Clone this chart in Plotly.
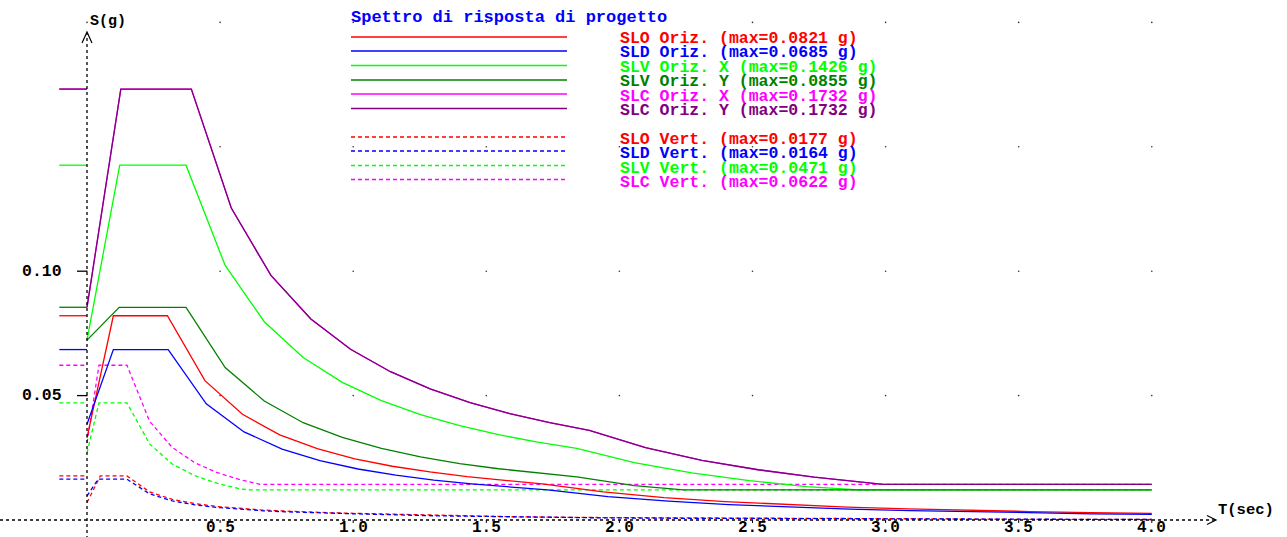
import plotly.graph_objects as go

# ---------------- data ----------------
STUB_T = [-0.104, 0.0]   # short level marks left of the S axis

SLO_H_T = [0, 0.099, 0.302, 0.443, 0.584, 0.724, 0.865, 1.006, 1.147, 1.288, 1.428, 1.569, 1.71,
           1.939, 2.168, 2.397, 2.626, 2.855, 3.084, 3.313, 3.542, 3.771, 4.0]
SLO_H_S = [0.033, 0.0821, 0.0821, 0.0560, 0.0425, 0.0342, 0.0287, 0.0246, 0.0216, 0.0193, 0.0174, 0.0158, 0.0145,
           0.0113, 0.0090, 0.0074, 0.0062, 0.0052, 0.0045, 0.0039, 0.0034, 0.0030, 0.0027]

SLD_H_T = [0, 0.099, 0.305, 0.448, 0.590, 0.733, 0.875, 1.018, 1.160, 1.303, 1.445, 1.588, 1.73,
           1.957, 2.184, 2.411, 2.638, 2.865, 3.092, 3.319, 3.546, 3.773, 4.0]
SLD_H_S = [0.0385, 0.0685, 0.0685, 0.0467, 0.0354, 0.0285, 0.0239, 0.0205, 0.0180, 0.0160, 0.0145, 0.0132, 0.0121,
           0.0094, 0.0076, 0.0062, 0.0052, 0.0044, 0.0038, 0.0033, 0.0029, 0.0025, 0.0023]

SLV_HX_T = [0, 0.123, 0.372, 0.519, 0.666, 0.812, 0.959, 1.106, 1.253, 1.400, 1.546, 1.693, 1.84,
            2.056, 2.272, 2.488, 2.704, 2.90, 4.0]
SLV_HX_S = [0.0723, 0.1426, 0.1426, 0.1023, 0.0797, 0.0653, 0.0553, 0.0480, 0.0424, 0.0379, 0.0343, 0.0313, 0.0288,
            0.0231, 0.0189, 0.0158, 0.0134, 0.0121, 0.0121]

SLV_HY_T = [0, 0.121, 0.372, 0.519, 0.666, 0.812, 0.959, 1.106, 1.253, 1.400, 1.546, 1.693, 1.84,
            2.056, 2.24, 4.0]
SLV_HY_S = [0.0723, 0.0855, 0.0855, 0.0613, 0.0478, 0.0391, 0.0332, 0.0288, 0.0254, 0.0227, 0.0206, 0.0188, 0.0173,
            0.0138, 0.0121, 0.0121]

SLC_H_T = [0, 0.127, 0.392, 0.542, 0.691, 0.841, 0.990, 1.140, 1.289, 1.439, 1.588, 1.738, 1.887,
           2.098, 2.310, 2.521, 2.732, 2.944, 2.99, 4.0]
SLC_H_S = [0.0855, 0.1732, 0.1732, 0.1254, 0.0983, 0.0808, 0.0686, 0.0596, 0.0527, 0.0472, 0.0428, 0.0391, 0.0360,
           0.0291, 0.0240, 0.0202, 0.0172, 0.0148, 0.01435, 0.01435]

SLO_V_T = [0, 0.05, 0.15, 0.235, 0.32, 0.405, 0.49, 0.575, 0.66, 0.745, 0.83, 0.915, 1.0,
           1.3, 1.6, 1.9, 2.2, 2.5, 2.8, 3.1, 3.4, 3.7, 4.0]
SLO_V_S = [0.0070, 0.0177, 0.0177, 0.0113, 0.0083, 0.0066, 0.0054, 0.0046, 0.0040, 0.0036, 0.0032, 0.0029, 0.0027,
           0.0019, 0.0013, 0.0010, 0.0008, 0.0007, 0.0006, 0.0005, 0.0003, 0.0002, 0.0002]

SLD_V_T = [0, 0.042, 0.15, 0.235, 0.32, 0.405, 0.49, 0.575, 0.66, 0.745, 0.83, 0.915, 1.0,
           1.3, 1.6, 1.9, 2.2, 2.5, 2.8, 3.1, 3.4, 3.7, 4.0]
SLD_V_S = [0.0097, 0.0164, 0.0164, 0.0105, 0.0077, 0.0061, 0.0050, 0.0043, 0.0037, 0.0033, 0.0030, 0.0027, 0.0025,
           0.0017, 0.0012, 0.0009, 0.0007, 0.0006, 0.0005, 0.0004, 0.0003, 0.0002, 0.0002]

SLV_V_T = [0, 0.045, 0.15, 0.235, 0.32, 0.405, 0.49, 0.575, 0.61, 4.0]
SLV_V_S = [0.027, 0.0471, 0.0471, 0.0306, 0.0225, 0.0178, 0.0147, 0.0125, 0.0121, 0.0121]

SLC_V_T = [0, 0.045, 0.15, 0.235, 0.32, 0.405, 0.49, 0.575, 0.65, 4.0]
SLC_V_S = [0.031, 0.0622, 0.0622, 0.0397, 0.0292, 0.0230, 0.0190, 0.0162, 0.01435, 0.01435]

MAX_VALUES = [0.0821, 0.0685, 0.1426, 0.0855, 0.1732, 0.1732, 0.0177, 0.0164, 0.0471, 0.0622]
LEGEND_LABELS = [
    "SLO Oriz. (max=0.0821 g)",
    "SLD Oriz. (max=0.0685 g)",
    "SLV Oriz. X (max=0.1426 g)",
    "SLV Oriz. Y (max=0.0855 g)",
    "SLC Oriz. X (max=0.1732 g)",
    "SLC Oriz. Y (max=0.1732 g)",
    "SLO Vert. (max=0.0177 g)",
    "SLD Vert. (max=0.0164 g)",
    "SLV Vert. (max=0.0471 g)",
    "SLC Vert. (max=0.0622 g)",
]
X_TICKS = [0.5, 1.0, 1.5, 2.0, 2.5, 3.0, 3.5, 4.0]
X_TICK_LABELS = ["0.5", "1.0", "1.5", "2.0", "2.5", "3.0", "3.5", "4.0"]
Y_TICKS = [0.05, 0.10]
Y_TICK_LABELS = ["0.05", "0.10"]
GRID_T = [0.0, 0.5, 1.0, 1.5, 2.0, 2.5, 3.0, 3.5, 4.0]
GRID_S = [0.05, 0.10, 0.15, 0.20]

# ---------------- styling / layout ----------------
W, H = 1287, 537
X0PX, XSCALE = 87.0, 266.2      # pixel of T=0, pixels per second
Y0PX, YSCALE = 520.0, 2488.0    # pixel of S=0, pixels per g


def px2x(px):
    return (px - X0PX) / XSCALE


def py2y(py):
    return (Y0PX - py) / YSCALE


def xp(px):
    return px / W


def yp(py):
    return 1 - py / H


FONT = "Liberation Mono"
COLORS = ["#ff0000", "#0000ff", "#00ff00", "#008000", "#ff00ff", "#800080",
          "#ff0000", "#0000ff", "#00ff00", "#ff00ff"]
DASHES = ["solid"] * 6 + ["4px,3px"] * 4
SERIES = [(SLO_H_T, SLO_H_S), (SLD_H_T, SLD_H_S), (SLV_HX_T, SLV_HX_S), (SLV_HY_T, SLV_HY_S),
          (SLC_H_T, SLC_H_S), (SLC_H_T, SLC_H_S),
          (SLO_V_T, SLO_V_S), (SLD_V_T, SLD_V_S), (SLV_V_T, SLV_V_S), (SLC_V_T, SLC_V_S)]

fig = go.Figure()

# grid dots
gx, gy = [], []
for s in GRID_S:
    for t in GRID_T:
        gx.append(t)
        gy.append(s)
fig.add_trace(go.Scatter(x=gx, y=gy, mode="markers", hoverinfo="skip",
                         marker=dict(size=1.6, color="#303030")))

draw_order = [6, 7, 8, 9, 0, 1, 2, 3, 4, 5]
for i in draw_order:
    T, S = SERIES[i]
    m = MAX_VALUES[i]
    fig.add_trace(go.Scatter(
        x=STUB_T + [None] + list(T),
        y=[m, m] + [None] + list(S),
        mode="lines", name=LEGEND_LABELS[i],
        line=dict(color=COLORS[i], width=1.3, dash=DASHES[i]),
    ))

shapes = []
# S axis (dashed, with arrow)
shapes.append(dict(type="line", xref="x", yref="y", x0=0, x1=0, y0=py2y(H + 2), y1=py2y(33),
                   line=dict(color="black", width=1.3, dash="3px,3px")))
shapes.append(dict(type="path", xref="paper", yref="paper",
                   path=f"M {xp(82)},{yp(43)} L {xp(87)},{yp(32)} L {xp(92)},{yp(43)}",
                   line=dict(color="black", width=1.2)))
# T axis (dashed, with arrow)
shapes.append(dict(type="line", xref="x", yref="y", x0=px2x(0), x1=px2x(1215), y0=0, y1=0,
                   line=dict(color="black", width=1.3, dash="3px,3px")))
shapes.append(dict(type="path", xref="paper", yref="paper",
                   path=f"M {xp(1207)},{yp(515.5)} L {xp(1216)},{yp(520)} L {xp(1207)},{yp(524.5)}",
                   line=dict(color="black", width=1.2)))
# ticks
for v in Y_TICKS:
    shapes.append(dict(type="line", xref="x", yref="y", x0=px2x(77), x1=0, y0=v, y1=v,
                       line=dict(color="black", width=1.3)))
for t in X_TICKS:
    shapes.append(dict(type="line", xref="x", yref="y", x0=t, x1=t, y0=0, y1=py2y(523),
                       line=dict(color="black", width=1)))
# legend samples
LEG_ROWS_LINE = [37, 51, 65.5, 80, 94, 108.5, 137, 151, 165.5, 179.5]
LEG_ROWS_TEXT = [38.5, 52.5, 67, 81.5, 96, 110.5, 139, 153.5, 168, 182]
for i in range(10):
    shapes.append(dict(type="line", xref="paper", yref="paper",
                       x0=xp(351), x1=xp(567), y0=yp(LEG_ROWS_LINE[i]), y1=yp(LEG_ROWS_LINE[i]),
                       line=dict(color=COLORS[i], width=1.6, dash=DASHES[i])))

annotations = []
FS = 16.5
for i in range(10):
    annotations.append(dict(xref="paper", yref="paper", x=xp(618), y=yp(LEG_ROWS_TEXT[i]),
                            xanchor="left", yanchor="middle", showarrow=False,
                            text="<b>" + LEGEND_LABELS[i] + "</b>",
                            font=dict(family=FONT, size=FS, color=COLORS[i])))
annotations.append(dict(xref="paper", yref="paper", x=xp(349), y=yp(18),
                        xanchor="left", yanchor="middle", showarrow=False,
                        text="<b>Spettro di risposta di progetto</b>",
                        font=dict(family=FONT, size=17, color="#0000ff")))
annotations.append(dict(xref="paper", yref="paper", x=xp(88), y=yp(22),
                        xanchor="left", yanchor="middle", showarrow=False,
                        text="<b>S(g)</b>", font=dict(family=FONT, size=15, color="black")))
annotations.append(dict(xref="paper", yref="paper", x=xp(1216), y=yp(510),
                        xanchor="left", yanchor="middle", showarrow=False,
                        text="<b>T(sec)</b>", font=dict(family=FONT, size=15.5, color="black")))
for t, lab in zip(X_TICKS, X_TICK_LABELS):
    annotations.append(dict(xref="x", yref="paper", x=t, y=yp(528),
                            xanchor="center", yanchor="middle", showarrow=False,
                            text="<b>" + lab + "</b>", font=dict(family=FONT, size=16, color="black")))
for v, lab in zip(Y_TICKS, Y_TICK_LABELS):
    annotations.append(dict(xref="paper", yref="y", x=xp(64), y=v,
                            xanchor="right", yanchor="middle", showarrow=False,
                            text="<b>" + lab + "</b>", font=dict(family=FONT, size=FS, color="black")))

axis_common = dict(showgrid=False, zeroline=False, showticklabels=False, showline=False,
                   ticks="", fixedrange=True)
fig.update_layout(
    width=W, height=H,
    margin=dict(l=0, r=0, t=0, b=0, pad=0),
    paper_bgcolor="white", plot_bgcolor="white",
    showlegend=False,
    xaxis=dict(range=[px2x(0), px2x(W)], **axis_common),
    yaxis=dict(range=[py2y(H), py2y(0)], **axis_common),
    shapes=shapes, annotations=annotations,
)

fig.write_html("out.html", config={"displayModeBar": False},
               post_script="document.body.style.margin='0';document.body.style.overflow='hidden';")
